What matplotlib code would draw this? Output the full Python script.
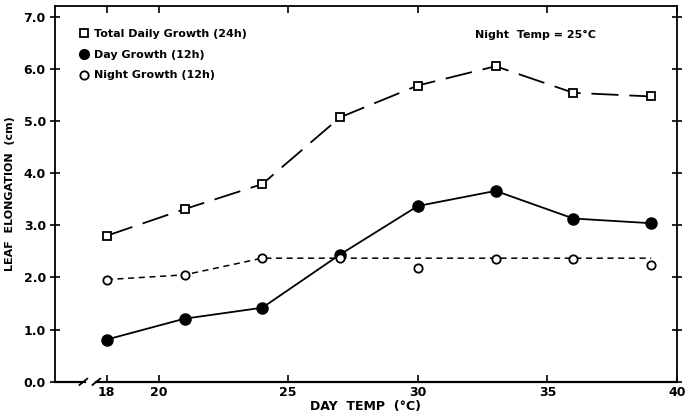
import matplotlib.pyplot as plt
from matplotlib.lines import Line2D

temps = [18, 21, 24, 27, 30, 33, 36, 39]
total_growth = [2.80, 3.31, 3.79, 5.07, 5.68, 6.05, 5.54, 5.47]
day_growth = [0.81, 1.21, 1.42, 2.44, 3.37, 3.66, 3.13, 3.04]
night_growth = [1.96, 2.05, 2.37, 2.37, 2.18, 2.35, 2.35, 2.24]

# fitted night line: rises to 24 then flat
night_fit_x = [18, 21, 24, 39]
night_fit_y = [1.96, 2.05, 2.37, 2.37]

xticks = [18, 20, 25, 30, 35, 40]
yticks = [0, 1, 2, 3, 4, 5, 6, 7]

plt.rcParams['font.family'] = 'DejaVu Sans'
plt.rcParams['font.weight'] = 'bold'

fig = plt.figure(figsize=(6.86, 4.15), dpi=100)
ax = fig.add_axes([0.080, 0.080, 0.907, 0.905])
ax.set_xlim(16, 40)
ax.set_ylim(0, 7.2)

ax.plot(temps, total_growth, color='black', lw=1.3, dashes=(15, 6), zorder=2)
ax.plot(temps, total_growth, ls='none', marker='s', ms=6, mfc='white', mec='black', mew=1.3, zorder=3)
ax.plot(temps, day_growth, color='black', lw=1.3, marker='o', ms=8, mfc='black', mec='black', zorder=3)
ax.plot(night_fit_x, night_fit_y, color='black', lw=1.1, dashes=(4, 3), zorder=2)
ax.plot(temps, night_growth, ls='none', marker='o', ms=6, mfc='white', mec='black', mew=1.3, zorder=4)

ax.set_xticks(xticks)
ax.set_xticklabels([str(t) for t in xticks], fontsize=9, fontweight='bold')
ax.set_yticks(yticks)
ax.set_yticklabels(['%.1f' % v for v in yticks], fontsize=9, fontweight='bold')
ax.tick_params(direction='in', length=5, width=1.2, top=True, right=True, pad=3)
ax.tick_params(axis='y', direction='inout', length=7)

for s in ['top', 'right', 'left']:
    ax.spines[s].set_linewidth(1.3)

# axis break on the bottom spine
ax.spines['bottom'].set_visible(False)
ax.plot([16, 17.15], [0, 0], color='black', lw=1.6, clip_on=False)
ax.plot([17.6, 40], [0, 0], color='black', lw=1.6, clip_on=False)
ax.plot([16.95, 17.25], [-0.06, 0.06], color='black', lw=1.3, clip_on=False)
ax.plot([17.45, 17.75], [-0.06, 0.06], color='black', lw=1.3, clip_on=False)

ax.set_xlabel('DAY  TEMP  (°C)', fontsize=9, fontweight='bold', labelpad=1)
ax.set_ylabel('LEAF  ELONGATION  (cm)', fontsize=8, fontweight='bold', labelpad=6)

handles = [
    Line2D([], [], ls='none', marker='s', ms=6, mfc='white', mec='black', mew=1.3),
    Line2D([], [], ls='none', marker='o', ms=7, mfc='black', mec='black'),
    Line2D([], [], ls='none', marker='o', ms=6, mfc='white', mec='black', mew=1.3),
]
labels = ['Total Daily Growth (24h)', 'Day Growth (12h)', 'Night Growth (12h)']
leg = ax.legend(handles, labels, loc='upper left', bbox_to_anchor=(0.025, 0.965), frameon=False,
                prop={'size': 8, 'weight': 'bold'}, handlelength=0.6, handletextpad=0.6,
                labelspacing=0.95)

ax.text(0.675, 0.923, 'Night  Temp = 25°C', transform=ax.transAxes, fontsize=8,
        fontweight='bold', ha='left', va='center')

fig.savefig('out.png', dpi=100)
